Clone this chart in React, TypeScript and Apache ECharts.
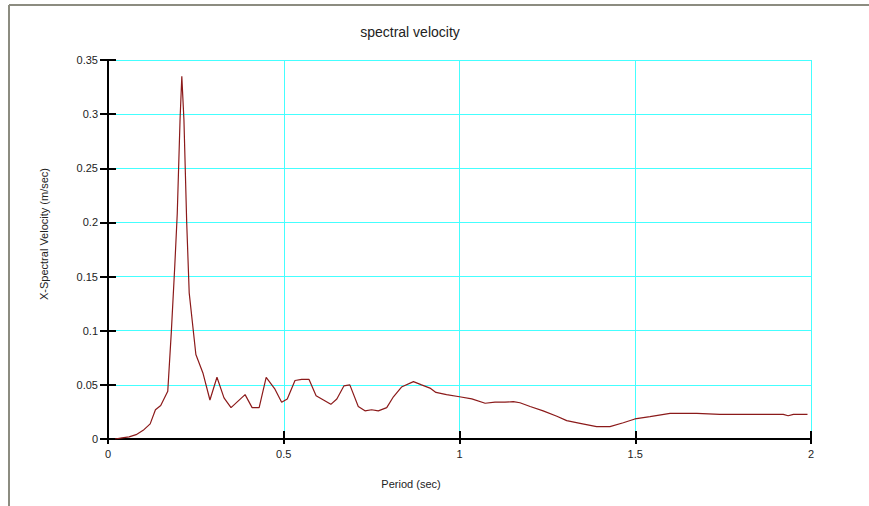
import React, { useEffect, useRef } from "react";
import * as echarts from "echarts";

const periods = [0.02, 0.04, 0.06, 0.08, 0.10, 0.12, 0.135, 0.15, 0.17, 0.18, 0.19, 0.197, 0.205, 0.21, 0.2125, 0.216, 0.224, 0.231, 0.25, 0.27, 0.29, 0.31, 0.33, 0.35, 0.37, 0.39, 0.41, 0.43, 0.45, 0.475, 0.494, 0.51, 0.532, 0.551, 0.572, 0.592, 0.613, 0.634, 0.651, 0.671, 0.688, 0.712, 0.731, 0.75, 0.769, 0.793, 0.812, 0.835, 0.869, 0.892, 0.916, 0.933, 0.963, 1.0, 1.035, 1.073, 1.101, 1.129, 1.153, 1.172, 1.201, 1.238, 1.277, 1.305, 1.343, 1.39, 1.428, 1.466, 1.499, 1.542, 1.599, 1.675, 1.741, 1.826, 1.921, 1.935, 1.95, 1.99];
const velocities = [0.0, 0.001, 0.002, 0.004, 0.008, 0.014, 0.027, 0.031, 0.044, 0.098, 0.16, 0.208, 0.295, 0.335, 0.318, 0.295, 0.199, 0.135, 0.078, 0.061, 0.036, 0.057, 0.038, 0.029, 0.035, 0.041, 0.029, 0.029, 0.057, 0.046, 0.034, 0.037, 0.054, 0.055, 0.055, 0.04, 0.036, 0.032, 0.037, 0.049, 0.05, 0.03, 0.026, 0.027, 0.026, 0.029, 0.039, 0.048, 0.053, 0.05, 0.047, 0.043, 0.041, 0.039, 0.037, 0.033, 0.034, 0.034, 0.0345, 0.0335, 0.03, 0.026, 0.021, 0.017, 0.0145, 0.0114, 0.0114, 0.015, 0.0185, 0.0206, 0.0237, 0.0237, 0.0228, 0.0228, 0.0228, 0.0215, 0.0228, 0.0228];

const titleText = "spectral velocity";
const xAxisName = "Period (sec)";
const yAxisName = "X-Spectral Velocity (m/sec)";

const FONT = "'Liberation Sans', Arial, sans-serif";

export default function App() {
  const ref = useRef<HTMLDivElement>(null);
  useEffect(() => {
    if (!ref.current) return;
    const chart = echarts.init(ref.current, undefined, { renderer: "svg" });
    const data = periods.map((p, i) => [p, velocities[i]]);
    const gridLine = { show: true, lineStyle: { color: "#44ffff", width: 1 } };
    const labelStyle = { color: "#222", fontFamily: FONT, fontSize: 11 };
    chart.setOption({
      animation: false,
      backgroundColor: "#fff",
      grid: { left: 108, top: 60, width: 703, height: 379, containLabel: false },
      xAxis: [
        {
          type: "value", min: 0, max: 2, interval: 0.5,
          axisLine: { show: true, onZero: false, lineStyle: { color: "#000", width: 2 } },
          axisTick: { show: true, length: 5, lineStyle: { color: "#000", width: 2 } },
          axisLabel: { ...labelStyle, margin: 9 },
          splitLine: gridLine,
        },
        {
          type: "value", min: 0, max: 2, interval: 0.5, position: "bottom",
          axisLine: { show: false },
          axisTick: { show: true, inside: true, length: 8, lineStyle: { color: "#000", width: 2 } },
          axisLabel: { show: false },
          splitLine: { show: false },
        },
      ],
      yAxis: [
        {
          type: "value", min: 0, max: 0.35, interval: 0.05,
          axisLine: { show: true, onZero: false, lineStyle: { color: "#000", width: 2 } },
          axisTick: { show: true, length: 8, lineStyle: { color: "#000", width: 2 } },
          axisLabel: { ...labelStyle, margin: 10 },
          splitLine: gridLine,
        },
        {
          type: "value", min: 0, max: 0.35, interval: 0.05, position: "left",
          axisLine: { show: false },
          axisTick: { show: true, inside: true, length: 8, lineStyle: { color: "#000", width: 2 } },
          axisLabel: { show: false },
          splitLine: { show: false },
        },
      ],
      series: [
        {
          type: "line",
          data,
          showSymbol: false,
          symbol: "none",
          lineStyle: { color: "#8b1a1a", width: 1.2 },
          z: 1,
        },
      ],
      graphic: [
        { type: "line", shape: { x1: 9, y1: 5, x2: 869, y2: 5 }, style: { stroke: "#8c8c80", lineWidth: 2 } },
        { type: "line", shape: { x1: 9, y1: 5, x2: 9, y2: 506 }, style: { stroke: "#8c8c80", lineWidth: 2 } },
        { type: "text", x: 410, y: 32, style: { text: titleText, fill: "#222", font: `14px ${FONT}`, textAlign: "center", textVerticalAlign: "middle" } },
        { type: "text", x: 411, y: 484, style: { text: xAxisName, fill: "#222", font: `11px ${FONT}`, textAlign: "center", textVerticalAlign: "middle" } },
        { type: "text", x: 44, y: 234, rotation: Math.PI / 2, style: { text: yAxisName, fill: "#222", font: `11px ${FONT}`, textAlign: "center", textVerticalAlign: "middle" } },
      ],
    });
    return () => chart.dispose();
  }, []);
  return <div ref={ref} style={{ width: 869, height: 506, position: "absolute", left: 0, top: 0 }} />;
}
